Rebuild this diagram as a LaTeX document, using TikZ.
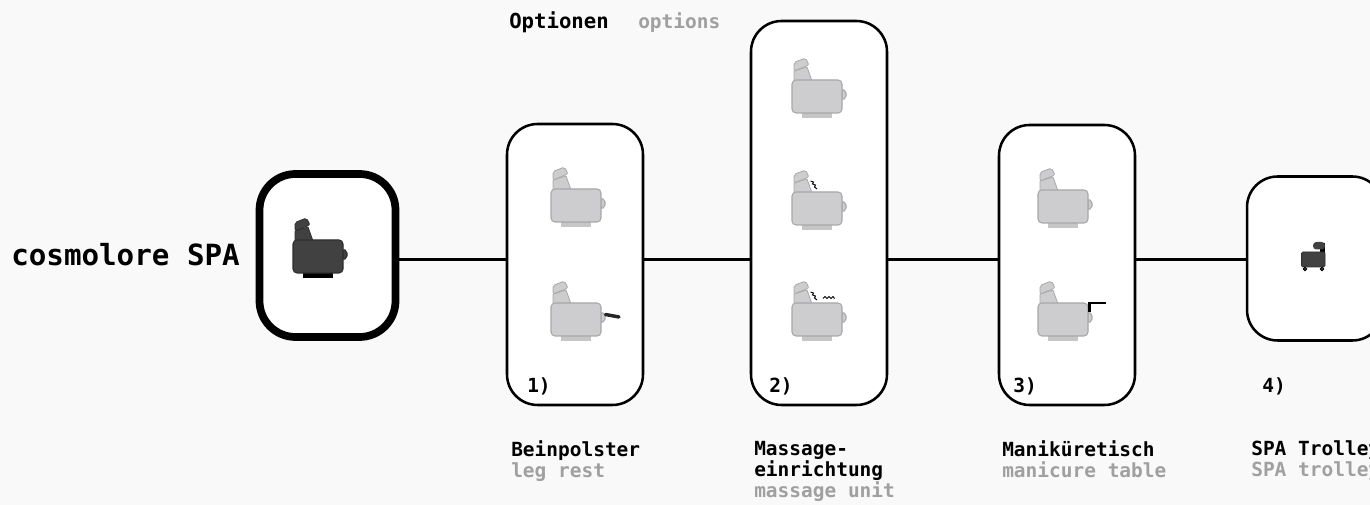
\documentclass[tikz,border=0pt]{standalone}
\usepackage{fontspec}
\setmonofont{DejaVu Sans Mono}
\definecolor{pagegrey}{HTML}{F9F9F9}
\definecolor{seatgrey}{HTML}{CDCDCF}
\definecolor{edgegrey}{HTML}{A8A8A8}
\definecolor{basegrey}{HTML}{C6C6C6}
\definecolor{seatdark}{HTML}{414141}
\definecolor{edgedark}{HTML}{2E2E2E}
\definecolor{textgrey}{HTML}{A0A0A0}
\newcommand{\chairshape}[3]{
	\begin{scope}[yscale=-1]
	\fill [#3] (10,33) rectangle (40,38.5);
	\draw [fill=#1,draw=#2,line width=0.8pt,rounded corners=1.5pt] (50,9) -- (54,11) -- (54,18) -- (50,20) -- cycle;
	\draw [fill=#1,draw=#2,line width=0.6pt,rounded corners=0.5pt] (2,1) -- (2,-9) -- (15,-13) -- (20,1) -- cycle;
	\draw [fill=#1,draw=#2,line width=0.6pt,rounded corners=1.5pt] (2,-9) -- (2,-17.5) -- (13.5,-22) -- (17,-15) -- cycle;
	\draw [fill=#1,draw=#2,line width=0.8pt,rounded corners=3pt] (0,0) rectangle (50,33);
	\end{scope}
}
\tikzset{
	pics/greychair/.style={code={\chairshape{seatgrey}{edgegrey}{basegrey}}},
	pics/darkchair/.style={code={\chairshape{seatdark}{edgedark}{black}}},
	optbox/.style={draw=black,fill=white,line width=1.9pt,rounded corners=23pt,inner sep=0pt,outer sep=0pt,minimum width=102pt},
	mainbox/.style={optbox,line width=5.8pt,rounded corners=27pt},
	link/.style={line width=2.25pt},
	caption/.style={font=\ttfamily\bfseries\fontsize{14.6}{16.1}\selectfont,anchor=north west,inner sep=0pt,align=left},
	greytext/.style={text=textgrey},
	squiggle/.style={draw=black,line width=0.7pt}
}
\begin{document}
\begin{tikzpicture}[x=0.75pt,y=0.75pt,yscale=-1,xscale=1]
	\useasboundingbox (0,0) rectangle (1370,505);
	\fill [pagegrey] (0,0) rectangle (1370,505);
	
	%boxes
	\node (spabox) [mainbox,minimum height=122.25pt] at (327.5,255.5) {};
	\node (legbox) [optbox,minimum height=210.75pt] at (575,264.5) {};
	\node (massagebox) [optbox,minimum height=288pt] at (819,213) {};
	\node (tablebox) [optbox,minimum height=210pt] at (1067,265) {};
	\node (trolleybox) [optbox,minimum height=123pt] at (1315,258.5) {};
	
	%connectors
	\coordinate (axis) at (0,259.5);
	\draw [link] (axis -| spabox.east) -- (axis -| legbox.west);
	\draw [link] (axis -| legbox.east) -- (axis -| massagebox.west);
	\draw [link] (axis -| massagebox.east) -- (axis -| tablebox.west);
	\draw [link] (axis -| tablebox.east) -- (axis -| trolleybox.west);
	
	%chairs
	\pic at (293,240) {darkchair};
	\pic at (551,189) {greychair};
	\pic at (551,303) {greychair};
	\pic at (792,80) {greychair};
	\pic at (792,192) {greychair};
	\pic at (792,303) {greychair};
	\pic at (1038,190) {greychair};
	\pic at (1038,303) {greychair};
	
	%leg rest
	\draw [line width=2.6pt,line cap=round,draw=black!85] (605.5,314.5) -- (619,317);
	%massage marks
	\draw [squiggle] (810.5,181) -- (813.5,182) -- (812.5,184) -- (815.5,185) -- (814.5,187) -- (817,189);
	\draw [squiggle] (810.5,292) -- (813.5,293) -- (812.5,295) -- (815.5,296) -- (814.5,298) -- (817,300);
	\draw [squiggle] (823,298.5) -- (825,296.5) -- (827,298.5) -- (829,296.5) -- (831,298.5) -- (833,296.5) -- (834.5,298.5);
	%manicure table
	\draw [line width=1.6pt] (1089.5,312) -- (1089.5,303) -- (1105.5,303);
	
	%trolley
	\fill [black] (1320,243) rectangle (1325,254);
	\fill [seatdark,rounded corners=2.5pt] (1313,242) rectangle (1325,249.5);
	\draw [fill=seatdark,draw=edgedark,line width=0.6pt,rounded corners=1pt] (1301.5,252) rectangle (1325,267);
	\draw [fill=seatdark,draw=black,line width=0.6pt] (1305,269) circle [radius=1.8];
	\draw [fill=seatdark,draw=black,line width=0.6pt] (1322,269) circle [radius=1.8];
	
	%texts
	\node (spaname) [font=\ttfamily\bfseries\fontsize{21.9}{24}\selectfont,anchor=base west,inner sep=0pt] at (11,266) {cosmolore SPA};
	\node (optde) [caption,font=\ttfamily\bfseries\fontsize{15.5}{16.1}\selectfont,anchor=base west] at (509,29) {Optionen};
	\node (opten) [caption,anchor=base west,greytext] at (638,29) {options};
	\node (numa) [caption,anchor=base west] at (527,393) {1)};
	\node (numb) [caption,anchor=base west] at (769,393) {2)};
	\node (numc) [caption,anchor=base west] at (1013,393) {3)};
	\node (numd) [caption,anchor=base west] at (1262,393) {4)};
	\node (legde) [caption] at (511,440) {\vphantom{Bl}Beinpolster\\\textcolor{textgrey}{leg rest}};
	\node (massagede) [caption] at (754,440) {\vphantom{Bl}Massage-\\einrichtung\\\textcolor{textgrey}{massage unit}};
	\node (tablede) [caption] at (1002,440) {\vphantom{Bl}Maniküretisch\\\textcolor{textgrey}{manicure table}};
	\node (trolleyde) [caption] at (1251,440) {\vphantom{Bl}SPA Trolley\\\textcolor{textgrey}{SPA trolley}};
\end{tikzpicture}
\end{document}
